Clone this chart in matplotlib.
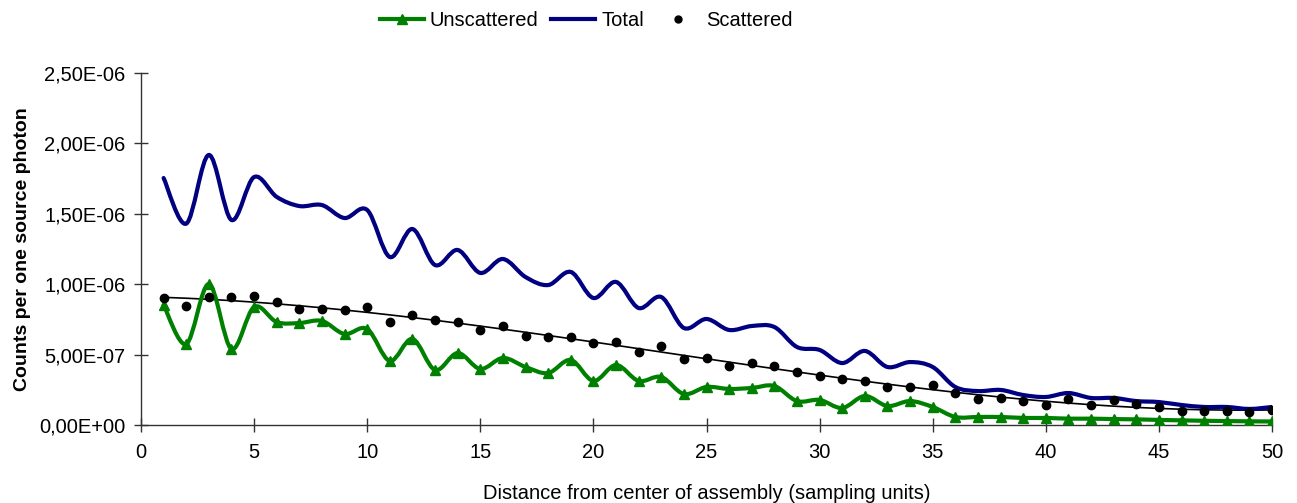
import numpy as np
import matplotlib
matplotlib.use("Agg")
import matplotlib.pyplot as plt
from matplotlib.path import Path
from matplotlib.patches import PathPatch
from matplotlib.lines import Line2D
from matplotlib.ticker import FuncFormatter, MultipleLocator

plt.rcParams['font.family'] = ['Liberation Sans', 'DejaVu Sans']

# distance (sampling units)
dist = np.arange(1, 51)

# counts per source photon, in units of 1e-6
total = [1.754, 1.43, 1.918, 1.456, 1.761, 1.62, 1.555, 1.562, 1.47, 1.527,
         1.193, 1.392, 1.136, 1.243, 1.08, 1.179, 1.051, 0.994, 1.087, 0.902,
         1.016, 0.831, 0.909, 0.689, 0.753, 0.675, 0.703, 0.696, 0.554, 0.533,
         0.44, 0.526, 0.412, 0.447, 0.412, 0.27, 0.241, 0.249, 0.213, 0.199,
         0.227, 0.192, 0.192, 0.17, 0.163, 0.142, 0.128, 0.128, 0.114, 0.128]

unscattered = [0.852, 0.575, 1.001, 0.54, 0.838, 0.731, 0.724, 0.739, 0.646, 0.682,
               0.455, 0.611, 0.391, 0.511, 0.398, 0.476, 0.412, 0.369, 0.462, 0.313,
               0.426, 0.313, 0.341, 0.22, 0.27, 0.256, 0.263, 0.277, 0.17, 0.178,
               0.121, 0.206, 0.135, 0.17, 0.128, 0.057, 0.057, 0.057, 0.05, 0.05,
               0.045, 0.045, 0.042, 0.04, 0.036, 0.033, 0.03, 0.028, 0.026, 0.025]

scattered = [0.902, 0.845, 0.909, 0.909, 0.916, 0.874, 0.824, 0.824, 0.817, 0.838,
             0.731, 0.781, 0.746, 0.731, 0.675, 0.703, 0.632, 0.625, 0.625, 0.582,
             0.59, 0.518, 0.561, 0.469, 0.476, 0.419, 0.44, 0.419, 0.376, 0.348,
             0.327, 0.313, 0.27, 0.27, 0.284, 0.227, 0.185, 0.192, 0.17, 0.142,
             0.185, 0.142, 0.178, 0.149, 0.128, 0.099, 0.099, 0.099, 0.092, 0.107]

total = np.array(total) * 1e-6
unscattered = np.array(unscattered) * 1e-6
scattered = np.array(scattered) * 1e-6


def smooth_path(x, y):
    # excel-like smoothed line (bezier through each point)
    pts = np.column_stack([x, y])
    n = len(pts)
    verts = [pts[0]]
    codes = [Path.MOVETO]
    for i in range(n - 1):
        p0 = pts[i - 1] if i > 0 else pts[i]
        p1 = pts[i]
        p2 = pts[i + 1]
        p3 = pts[i + 2] if i + 2 < n else pts[i + 1]
        verts += [p1 + (p2 - p0) / 6, p2 - (p3 - p1) / 6, p2]
        codes += [Path.CURVE4] * 3
    return Path(verts, codes)


green = '#008000'
navy = '#000080'

fig = plt.figure(figsize=(12.97, 5.03), dpi=100)
ax = fig.add_axes([141 / 1297, 1 - 425 / 503, (1272 - 141) / 1297, (425 - 73) / 503])

ax.add_patch(PathPatch(smooth_path(dist, total), facecolor='none', edgecolor=navy,
                       lw=3, capstyle='round', joinstyle='round', zorder=3))
ax.add_patch(PathPatch(smooth_path(dist, unscattered), facecolor='none', edgecolor=green,
                       lw=3, capstyle='round', joinstyle='round', zorder=3))
ax.plot(dist, unscattered, '^', color=green, ms=7.5, zorder=4)

# polynomial trend of the scattered points
coef = np.polyfit(dist, scattered, 3)
ax.plot(dist, np.polyval(coef, dist), color='black', lw=1.2, zorder=2)
ax.plot(dist, scattered, 'o', color='black', ms=6, zorder=5)

ax.set_xlim(0, 50)
ax.set_ylim(0, 2.5e-6)
ax.xaxis.set_major_locator(MultipleLocator(5))
ax.yaxis.set_major_locator(MultipleLocator(0.5e-6))
ax.yaxis.set_major_formatter(FuncFormatter(lambda v, p: ('%.2E' % v).replace('.', ',')))

for s in ['top', 'right']:
    ax.spines[s].set_visible(False)
for s in ['left', 'bottom']:
    ax.spines[s].set_color('#333333')
    ax.spines[s].set_linewidth(1.0)
ax.tick_params(direction='inout', length=10, width=1, color='#333333',
               labelsize=14.5, pad=8)
ax.tick_params(axis='y', pad=6)

ax.set_xlabel('Distance from center of assembly (sampling units)', fontsize=14.5, labelpad=16)
ax.set_ylabel('Counts per one source photon', fontsize=14, fontweight='bold', labelpad=6)

handles = [
    Line2D([], [], color=green, lw=3, marker='^', ms=7.5),
    Line2D([], [], color=navy, lw=3),
    Line2D([], [], color='black', ls='none', marker='o', ms=5),
]
fig.legend(handles, ['Unscattered', 'Total', 'Scattered'], loc='center',
           bbox_to_anchor=(0.452, 0.96), ncol=3, frameon=False, fontsize=14.5,
           handlelength=2.2, handletextpad=0.3, columnspacing=0.6)

fig.savefig('out.png', dpi=100)
